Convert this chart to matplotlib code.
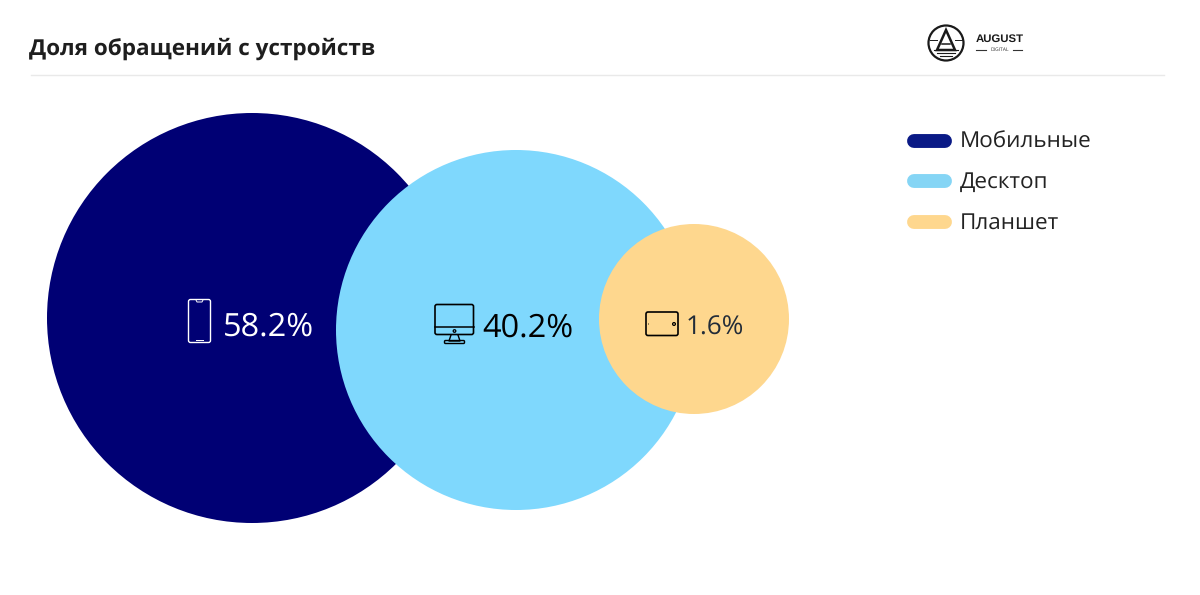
import matplotlib
matplotlib.use("Agg")
import matplotlib.pyplot as plt
from matplotlib.patches import Circle, FancyBboxPatch, Polygon

title = 'Доля обращений с устройств'
devices = ['Мобильные', 'Десктоп', 'Планшет']
shares = [58.2, 40.2, 1.6]

colors = ['#000074', '#7fd8fd', '#fed78e']
legend_colors = ['#0a1a86', '#85d5f5', '#fed78e']
text_colors = ['white', 'black', '#222c38']
centers = [(252, 318), (516, 330), (694, 319)]
radius = [205, 180, 95]
label_pos = [(223, 327), (482, 328), (686, 328)]
label_size = [23.4, 23.4, 18.8]
legend_y = [141, 181, 222]

plt.rcParams['font.family'] = ['Open Sans', 'DejaVu Sans']
plt.rcParams['text.hinting'] = 'no_hinting'
fig = plt.figure(figsize=(12, 5.95), dpi=100)
ax = fig.add_axes([0, 0, 1, 1])
ax.set_xlim(0, 1200)
ax.set_ylim(595, 0)
ax.axis('off')


def rrect(x, y, w, h, r, ec, lw=1.2, fc='none'):
    ax.add_patch(FancyBboxPatch((x + r, y + r), w - 2 * r, h - 2 * r,
                                boxstyle='round,pad=%f,rounding_size=%f' % (r, r),
                                ec=ec, fc=fc, lw=lw, zorder=5))


ax.text(29, 49, title, fontsize=16.2, fontweight='bold', color='#1e1e1e', va='center')
ax.plot([31, 1164], [75, 75], color='#e9e9e9', lw=1)

# logo
ax.add_patch(Circle((946, 43), 17.5, fc='white', ec='#1a1a1a', lw=1.6))
ax.add_patch(Polygon([(946, 30), (937, 50), (955, 50)], closed=True, fc='none', ec='#1a1a1a', lw=1.8))
ax.plot([942, 950], [44, 44], color='#1a1a1a', lw=1.1)
ax.plot([930, 937], [40, 40], color='#1a1a1a', lw=0.7)
ax.plot([955, 962], [40, 40], color='#1a1a1a', lw=0.7)
for yy in [50, 53, 56]:
    ax.plot([934 + (yy - 50), 958 - (yy - 50)], [yy, yy], color='#1a1a1a', lw=0.8)
ax.text(976, 39, 'AUGUST', family='Liberation Sans', fontsize=8.2, fontweight='bold',
        color='#1a1a1a', va='center')
ax.text(999.5, 50, 'DIGITAL', fontsize=3.6, color='#333333', va='center', ha='center')
ax.plot([976, 986], [50, 50], color='#333333', lw=0.8)
ax.plot([1013, 1022], [50, 50], color='#333333', lw=0.8)

# circles
for i in range(3):
    ax.add_patch(Circle(centers[i], radius[i], fc=colors[i], ec='none', zorder=i + 1))
    ax.text(label_pos[i][0], label_pos[i][1], '%.1f%%' % shares[i], fontsize=label_size[i],
            color=text_colors[i], va='center', zorder=6,
            fontweight='medium' if i == 1 else 'normal')

# phone
rrect(188.5, 299.5, 22, 43, 2, 'white', 1.0)
ax.plot([196, 197, 202, 203], [300, 302, 302, 300], color='white', lw=0.7, zorder=6)
ax.plot([196, 203], [340, 340], color='white', lw=0.7, zorder=6)

# monitor
rrect(435, 304.5, 38.5, 30, 2, 'black', 1.2)
ax.plot([435, 473.5], [327, 327], color='black', lw=1.1, zorder=6)
ax.add_patch(Circle((454.5, 331), 1.3, fc='none', ec='black', lw=0.9, zorder=6))
ax.plot([451, 449, 460, 458], [335, 341, 341, 335], color='black', lw=1.0, zorder=6)
rrect(444.5, 340.5, 20, 3, 1, 'black', 1.0)

# tablet
rrect(646, 312, 32, 23.5, 2, 'black', 1.2)
ax.add_patch(Circle((674, 324), 1.4, fc='none', ec='black', lw=0.9, zorder=6))
ax.add_patch(Circle((648.5, 324), 0.5, fc='black', ec='none', zorder=6))

# legend
for i in range(3):
    ax.plot([914, 945], [legend_y[i], legend_y[i]], color=legend_colors[i], lw=10,
            solid_capstyle='round')
    ax.text(960, legend_y[i] + 1.5, devices[i], fontsize=16.2, color='#222222', va='center')

fig.savefig('out.png', dpi=100)
